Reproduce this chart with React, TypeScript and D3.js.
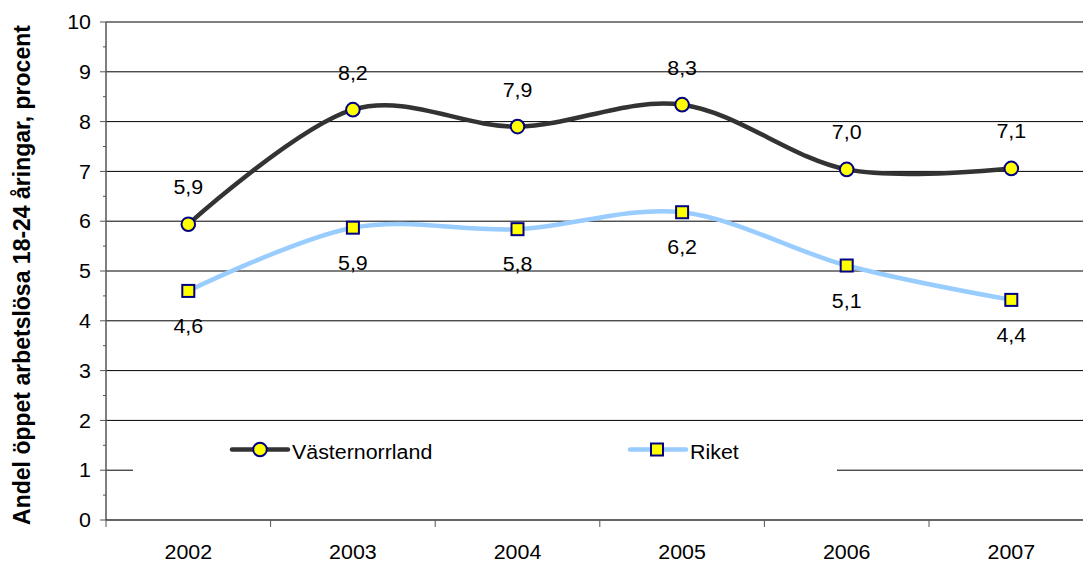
import React from "react";
import * as d3 from "d3";

const years = ["2002", "2003", "2004", "2005", "2006", "2007"];
const vasternorrland = [5.94, 8.24, 7.9, 8.34, 7.04, 7.06];
const riket = [4.6, 5.87, 5.84, 6.18, 5.11, 4.42];
const yTicks = [0, 1, 2, 3, 4, 5, 6, 7, 8, 9, 10];
const yMinorTicks = [0.5, 1.5, 2.5, 3.5, 4.5, 5.5, 6.5, 7.5, 8.5, 9.5];
const seriesNames = ["Västernorrland", "Riket"];
const yTitle = "Andel öppet arbetslösa 18-24 åringar, procent";

const W = 1083;
const H = 565;
const FONT = "Arial, 'Liberation Sans', sans-serif";
const SX = 1.07;

type TProps = { x: number; y: number; anchor?: "start" | "middle" | "end"; children: React.ReactNode };
function T({ x, y, anchor = "start", children }: TProps) {
  return (
    <text transform={`translate(${x},${y}) scale(${SX},1)`} textAnchor={anchor} fontSize={20} fill="#000">
      {children}
    </text>
  );
}

export default function App() {
  const x = d3.scaleBand<string>().domain(years).range([106, 1093.6]).padding(0);
  const y = d3.scaleLinear().domain([0, 10]).range([520, 22]);
  const cx = (i: number) => (x(years[i]) as number) + x.bandwidth() / 2;

  const line = d3
    .line<number>()
    .x((_, i) => cx(i))
    .y((d) => y(d))
    .curve(d3.curveCardinal.tension(0));

  const fmt = (v: number) => v.toFixed(1).replace(".", ",");
  const boundaries = years.map((yr) => x(yr) as number).concat([x.range()[1]]);

  return (
    <svg
      width={W}
      height={H}
      style={{ position: "absolute", left: 0, top: 0, background: "#fff" }}
      fontFamily={FONT}
    >
      <rect x={0} y={0} width={W} height={H} fill="#fff" />
      {/* gridlines */}
      {yTicks.slice(1, 10).map((t) => (
        <line key={"g" + t} x1={106} x2={W} y1={y(t)} y2={y(t)} stroke="#000" strokeWidth={1} />
      ))}
      <line x1={106} x2={W} y1={y(10)} y2={y(10)} stroke="#808080" strokeWidth={2} />
      {/* legend box (white, hides gridline) */}
      <rect x={133} y={426} width={704} height={88} fill="#fff" />
      {/* y axis */}
      <line x1={106} x2={106} y1={y(10)} y2={y(0)} stroke="#555" strokeWidth={1.5} />
      {yTicks.map((t) => (
        <g key={"yt" + t}>
          <line x1={100} x2={106} y1={y(t)} y2={y(t)} stroke="#555" strokeWidth={1} />
          <T x={91} y={y(t) + 7.2} anchor="end">
            {t}
          </T>
        </g>
      ))}
      {yMinorTicks.map((t) => (
        <line key={"ym" + t} x1={103} x2={106} y1={y(t)} y2={y(t)} stroke="#555" strokeWidth={1} />
      ))}
      {/* x axis */}
      <line x1={106} x2={W} y1={y(0)} y2={y(0)} stroke="#333" strokeWidth={1.5} />
      {boundaries.map((b, i) => (
        <line key={"xt" + i} x1={b} x2={b} y1={y(0)} y2={y(0) + 7} stroke="#555" strokeWidth={1} />
      ))}
      {years.map((yr, i) => (
        <T key={"xl" + yr} x={cx(i)} y={559} anchor="middle">
          {yr}
        </T>
      ))}
      {/* y title */}
      <text
        transform={`translate(30, 275) rotate(-90)`}
        textAnchor="middle"
        fontSize={23}
        fontWeight="bold"
        fill="#000"
      >
        {yTitle}
      </text>
      {/* lines */}
      <path d={line(riket) as string} fill="none" stroke="#99CCFF" strokeWidth={4.5} />
      <path d={line(vasternorrland) as string} fill="none" stroke="#333333" strokeWidth={4.5} />
      {/* markers */}
      {riket.map((v, i) => (
        <rect
          key={"rm" + i}
          x={cx(i) - 6}
          y={y(v) - 6}
          width={12}
          height={12}
          fill="#FFFF00"
          stroke="#000080"
          strokeWidth={2}
        />
      ))}
      {vasternorrland.map((v, i) => (
        <circle key={"vm" + i} cx={cx(i)} cy={y(v)} r={6.8} fill="#FFFF00" stroke="#000080" strokeWidth={2} />
      ))}
      {/* data labels */}
      {vasternorrland.map((v, i) => (
        <T key={"vl" + i} x={cx(i)} y={y(v) - 30} anchor="middle">
          {fmt(v)}
        </T>
      ))}
      {riket.map((v, i) => (
        <T key={"rl" + i} x={cx(i)} y={y(v) + 42} anchor="middle">
          {fmt(v)}
        </T>
      ))}
      {/* legend */}
      <line x1={232} x2={288} y1={449.5} y2={449.5} stroke="#333333" strokeWidth={4.5} strokeLinecap="round" />
      <circle cx={260} cy={449.5} r={6.8} fill="#FFFF00" stroke="#000080" strokeWidth={2} />
      <T x={292} y={459}>
        {seriesNames[0]}
      </T>
      <line x1={630} x2={686} y1={449.5} y2={449.5} stroke="#99CCFF" strokeWidth={4.5} strokeLinecap="round" />
      <rect x={651} y={443.5} width={12} height={12} fill="#FFFF00" stroke="#000080" strokeWidth={2} />
      <T x={690} y={459}>
        {seriesNames[1]}
      </T>
    </svg>
  );
}
